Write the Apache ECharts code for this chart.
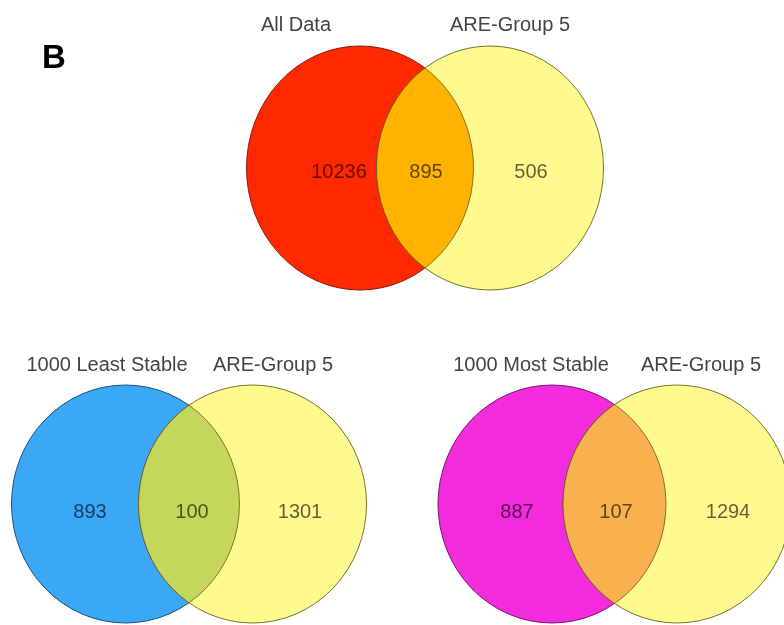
<!DOCTYPE html>
<html>
<head>
<meta charset="utf-8">
<script src="https://cdn.jsdelivr.net/npm/echarts@6/dist/echarts.min.js"></script>
<style>
  html, body { margin: 0; padding: 0; background: #fff; }
  #venn { width: 784px; height: 625px; }
</style>
</head>
<body>
<div id="venn"></div>
<script>
// set names for each pair (left set, right set)
const leftNames = ["All Data", "1000 Least Stable", "1000 Most Stable"];
const rightNames = ["ARE-Group 5", "ARE-Group 5", "ARE-Group 5"];
// counts: left only, overlap, right only
const leftOnly = [10236, 893, 887];
const shared = [895, 100, 107];
const rightOnly = [506, 1301, 1294];

// layout of each pair, in pixel units of the hidden axes
const pairLayout = [
  { cx: [360, 490], cy: 168, rx: 113.5, ry: 122, titleX: [296, 510], titleY: 25, numX: [339, 426, 531], numY: 172 },
  { cx: [125.5, 252.5], cy: 504, rx: 114, ry: 119, titleX: [107, 273], titleY: 365, numX: [90, 192, 300], numY: 512 },
  { cx: [552, 677], cy: 504, rx: 114, ry: 119, titleX: [531, 701], titleY: 365, numX: [517, 616, 728], numY: 512 }
];
const pairColors = [
  { left: "#ff2800", right: "#fefa90", lens: "#ffb300", leftLine: "#8a1a00" },
  { left: "#3ba7f7", right: "#fefa90", lens: "#c4d75b", leftLine: "#1d4f7a" },
  { left: "#f22cdc", right: "#fefa90", lens: "#f9b04e", leftLine: "#7a1670" }
];

function ellipsePath(cx, cy, rx, ry) {
  return "M" + (cx - rx) + " " + cy +
    " A" + rx + " " + ry + " 0 1 0 " + (cx + rx) + " " + cy +
    " A" + rx + " " + ry + " 0 1 0 " + (cx - rx) + " " + cy + " Z";
}

function renderItem(params, api) {
  const i = params.dataIndex;
  const L = pairLayout[i];
  const C = pairColors[i];
  const pL = api.coord([L.cx[0], L.cy]);
  const pR = api.coord([L.cx[1], L.cy]);
  const sz = api.size([L.rx, L.ry]);
  const rx = Math.abs(sz[0]), ry = Math.abs(sz[1]);
  const xm = (pL[0] + pR[0]) / 2;
  const t = (xm - pL[0]) / rx;
  const dy = ry * Math.sqrt(1 - t * t);
  const cy = pL[1];
  const lens = "M" + xm + " " + (cy - dy) +
    " A" + rx + " " + ry + " 0 0 1 " + xm + " " + (cy + dy) +
    " A" + rx + " " + ry + " 0 0 1 " + xm + " " + (cy - dy) + " Z";
  const children = [
    { type: "path", shape: { pathData: ellipsePath(pL[0], cy, rx, ry) },
      style: { fill: C.left, stroke: C.leftLine, lineWidth: 1 } },
    { type: "path", shape: { pathData: ellipsePath(pR[0], cy, rx, ry) },
      style: { fill: C.right, stroke: "#77742a", lineWidth: 1 } },
    { type: "path", shape: { pathData: lens },
      style: { fill: C.lens, stroke: "rgba(90,70,10,0.7)", lineWidth: 1 } }
  ];
  const nums = [api.value(0), api.value(1), api.value(2)];
  for (let k = 0; k < 3; k++) {
    const p = api.coord([L.numX[k], L.numY]);
    children.push({
      type: "text", x: p[0], y: p[1],
      style: { text: String(nums[k]), align: "center", verticalAlign: "middle",
        fill: "rgba(0,0,0,0.62)", font: "20px 'Liberation Sans', Arial, sans-serif" }
    });
  }
  const names = [leftNames[i], rightNames[i]];
  for (let k = 0; k < 2; k++) {
    const p = api.coord([L.titleX[k], L.titleY]);
    children.push({
      type: "text", x: p[0], y: p[1],
      style: { text: names[k], align: "center", verticalAlign: "middle",
        fill: "#444", font: "20px 'Liberation Sans', Arial, sans-serif" }
    });
  }
  return { type: "group", children: children };
}

const chart = echarts.init(document.getElementById("venn"));
const option = {
  animation: false,
  title: {
    text: "B", left: 42, top: 42, padding: 0,
    textStyle: { fontSize: 33, fontWeight: "bold", color: "#000", fontFamily: "Liberation Sans, Arial, sans-serif" }
  },
  grid: { left: 0, right: 0, top: 0, bottom: 0 },
  xAxis: { type: "value", min: 0, max: 784, show: false },
  yAxis: { type: "value", min: 0, max: 625, inverse: true, show: false },
  series: [{
    type: "custom",
    renderItem: renderItem,
    data: leftOnly.map((v, i) => [v, shared[i], rightOnly[i]]),
    encode: { x: -1, y: -1 }
  }]
};
chart.setOption(option);
</script>
</body>
</html>
